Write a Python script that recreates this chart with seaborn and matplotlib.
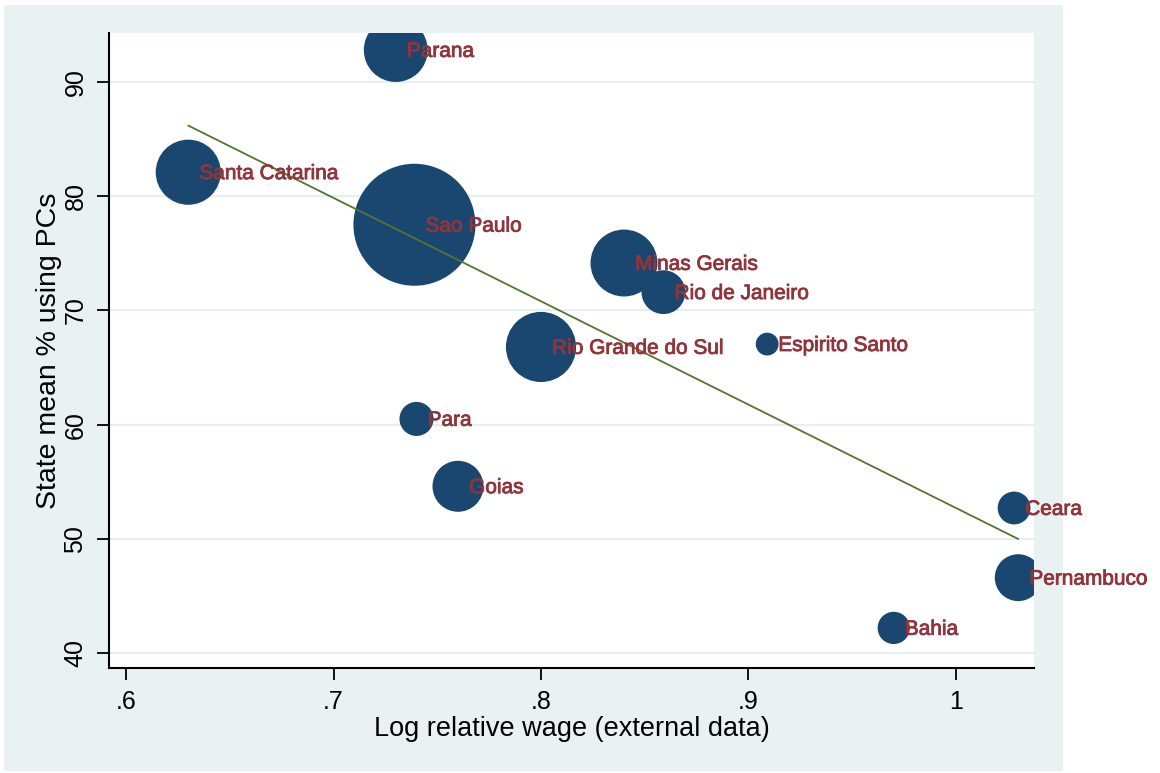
import matplotlib
matplotlib.use("Agg")
import matplotlib.pyplot as plt
import matplotlib.patheffects as pe
import seaborn as sns
import numpy as np
import pandas as pd
from matplotlib.patches import Rectangle

# ---- data ----
states = ["Parana", "Santa Catarina", "Sao Paulo", "Minas Gerais", "Rio de Janeiro",
          "Rio Grande do Sul", "Espirito Santo", "Para", "Goias", "Ceara",
          "Pernambuco", "Bahia"]
log_rel_wage = [0.730, 0.630, 0.739, 0.840, 0.859, 0.800, 0.909, 0.740, 0.760, 1.028, 1.030, 0.970]
pc_share = [92.8, 82.1, 77.5, 74.15, 71.6, 66.8, 67.05, 60.5, 54.6, 52.7, 46.6, 42.2]
weight = [10.2, 10.6, 37.2, 11.2, 4.8, 12.3, 1.3, 2.9, 6.5, 2.7, 5.5, 2.6]
fit_intercept = 143.2
fit_slope = -90.5
x_ticks = [0.6, 0.7, 0.8, 0.9, 1.0]
x_tick_labels = [".6", ".7", ".8", ".9", "1"]
y_ticks = [40, 50, 60, 70, 80, 90]

df = pd.DataFrame({"state": states, "x": log_rel_wage, "y": pc_share, "w": weight})

NAVY = "#1A476F"
MAROON = "#90353B"
GREEN = "#55752F"
BG = "#EAF1F3"
GRID = "#E6EEF1"

sns.set_theme(style="white")
plt.rcParams["font.family"] = ["Liberation Sans", "DejaVu Sans"]

fig = plt.figure(figsize=(11.6, 7.73), dpi=100)
fig.patch.set_facecolor("white")
bg = Rectangle((4 / 1160, 2 / 773), (1063 - 4) / 1160, (768 - 2) / 773,
               transform=fig.transFigure, facecolor=BG, edgecolor="none", zorder=-10)
fig.patches.append(bg)

ax = fig.add_axes([109 / 1160, 105 / 773, (1034 - 109) / 1160, (668 - 33) / 773])
ax.set_zorder(5)
ax.set_facecolor("white")

wmax = max(weight)
smax = (122 * 0.72) ** 2
sns.scatterplot(data=df, x="x", y="y", size="w", sizes=(0, smax), size_norm=(0, wmax),
                color=NAVY, edgecolor="none", linewidth=0, legend=False, ax=ax, zorder=3)

xf = np.array([min(log_rel_wage), max(log_rel_wage)])
sns.lineplot(x=xf, y=fit_intercept + fit_slope * xf, color=GREEN, linewidth=1.3, ax=ax, zorder=4)

for s, x, y in zip(states, log_rel_wage, pc_share):
    ax.annotate(s, (x, y), xytext=(8, -1), textcoords="offset points", ha="left", va="center",
                color=MAROON, fontsize=15, zorder=5, annotation_clip=False,
                path_effects=[pe.withStroke(linewidth=0.6, foreground=MAROON)])

ax.set_xlim(0.5918, 1.0376)
ax.set_ylim(38.69, 94.29)
ax.set_xticks(x_ticks)
ax.set_xticklabels(x_tick_labels)
ax.set_yticks(y_ticks)
ax.set_yticklabels([str(v) for v in y_ticks], rotation=90, va="center")
ax.yaxis.grid(True, color=GRID, linewidth=1.5, zorder=0)
ax.xaxis.grid(False)
ax.set_axisbelow(True)

for side in ["top", "right"]:
    ax.spines[side].set_visible(False)
for side in ["left", "bottom"]:
    ax.spines[side].set_color("black")
    ax.spines[side].set_linewidth(1.5)

ax.tick_params(axis="both", which="major", direction="out", length=8.5, width=1.3,
               color="black", labelsize=18, labelcolor="black", pad=7,
               bottom=True, left=True)
ax.set_xlabel("Log relative wage (external data)", fontsize=19.5, color="black", labelpad=2)
ax.set_ylabel("State mean % using PCs", fontsize=20.5, color="black", labelpad=1)

fig.savefig("out.png", dpi=100, facecolor=fig.get_facecolor())
